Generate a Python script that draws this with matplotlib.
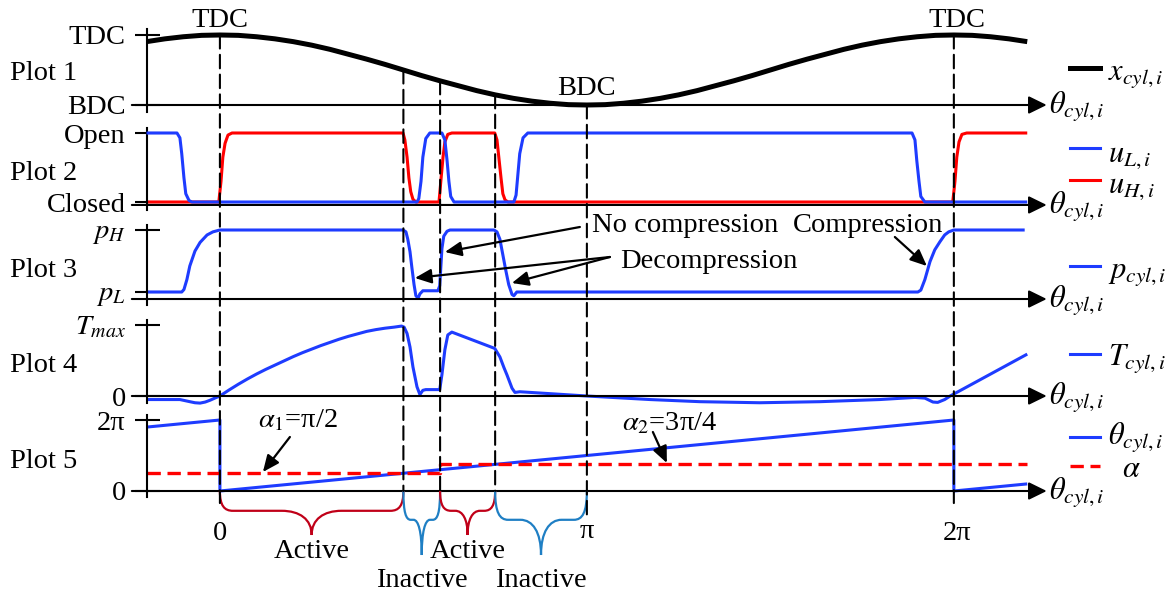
import numpy as np
import matplotlib
matplotlib.use("Agg")
import matplotlib.pyplot as plt
from matplotlib.patches import ConnectionPatch, PathPatch
from matplotlib.path import Path

plt.rcParams["font.family"] = ["Liberation Serif", "DejaVu Serif"]
plt.rcParams["mathtext.fontset"] = "stix"
plt.rcParams["font.size"] = 20.5

# ---- data (x in units of pi) ----
theta_x = [-0.2, -0.15, -0.1, -0.05, 0.0, 0.05, 0.1, 0.15, 0.2, 0.25, 0.3, 0.35, 0.4,
           0.45, 0.5, 0.55, 0.6, 0.65, 0.7, 0.75, 0.8, 0.85, 0.9, 0.95, 1.0, 1.05, 1.1,
           1.15, 1.2, 1.25, 1.3, 1.35, 1.4, 1.45, 1.5, 1.55, 1.6, 1.65, 1.7, 1.75, 1.8,
           1.85, 1.9, 1.95, 2.0, 2.05, 2.1, 2.15, 2.2]
x_cyl = [0.81, 0.89, 0.95, 0.99, 1.0, 0.99, 0.95, 0.89, 0.81, 0.71, 0.59, 0.45, 0.31,
         0.16, 0.0, -0.16, -0.31, -0.45, -0.59, -0.71, -0.81, -0.89, -0.95, -0.99, -1.0,
         -0.99, -0.95, -0.89, -0.81, -0.71, -0.59, -0.45, -0.31, -0.16, 0.0, 0.16, 0.31,
         0.45, 0.59, 0.71, 0.81, 0.89, 0.95, 0.99, 1.0, 0.99, 0.95, 0.89, 0.81]

uL_t = [-0.2, -0.117, -0.109, -0.104, -0.098, -0.093, -0.084, -0.076,
        0.537, 0.542, 0.548, 0.553, 0.561, 0.572, 0.605, 0.613, 0.619, 0.624, 0.629, 0.638,
        0.801, 0.807, 0.812, 0.817, 0.826, 0.839, 1.886, 1.894, 1.899, 1.905, 1.910, 1.921, 2.2]
uL_v = [1, 1, 0.93, 0.7, 0.35, 0.12, 0.02, 0,
        0, 0.05, 0.3, 0.65, 0.92, 1, 1, 0.9, 0.6, 0.3, 0.08, 0,
        0, 0.1, 0.4, 0.7, 0.93, 1, 1, 0.9, 0.6, 0.3, 0.08, 0, 0]

uH_t = [-0.2, -0.003, 0.003, 0.008, 0.014, 0.022, 0.033, 0.499, 0.504, 0.510, 0.515, 0.520,
        0.526, 0.534, 0.597, 0.602, 0.608, 0.613, 0.621, 0.632, 0.749, 0.755, 0.760, 0.766,
        0.771, 0.777, 0.785, 1.997, 2.003, 2.008, 2.014, 2.022, 2.035, 2.2]
uH_v = [0, 0, 0.3, 0.65, 0.85, 0.97, 1, 1, 0.9, 0.65, 0.35, 0.15,
        0.04, 0, 0, 0.3, 0.65, 0.87, 0.98, 1, 1, 0.9, 0.65, 0.35,
        0.12, 0.03, 0, 0, 0.3, 0.65, 0.87, 0.98, 1, 1]

p_t = [-0.2, -0.104, -0.098, -0.090, -0.082, -0.068, -0.054, -0.035, -0.019, 0.0,
       0.499, 0.507, 0.512, 0.518, 0.523, 0.529, 0.534, 0.540, 0.545, 0.553,
       0.594, 0.599, 0.602, 0.605, 0.610, 0.619, 0.627,
       0.747, 0.755, 0.763, 0.771, 0.779, 0.787, 0.796, 0.801, 0.809,
       1.902, 1.910, 1.921, 1.935, 1.948, 1.962, 1.975, 1.986, 2.0, 2.193]
p_v = [0, 0, 0.04, 0.2, 0.42, 0.66, 0.8, 0.92, 0.97, 1,
       1, 0.97, 0.85, 0.65, 0.4, 0.12, -0.06, -0.1, -0.03, 0.02,
       0.02, 0.1, 0.4, 0.7, 0.9, 0.98, 1,
       1, 0.97, 0.85, 0.6, 0.35, 0.12, -0.04, -0.06, 0,
       0, 0.03, 0.2, 0.49, 0.68, 0.81, 0.92, 0.97, 1, 1]

T_t = [-0.2, -0.109, -0.082, -0.068, -0.054, -0.04, -0.027, -0.014, 0.0,
       0.025, 0.05, 0.075, 0.1, 0.125, 0.15, 0.175, 0.2, 0.225, 0.25, 0.275, 0.3,
       0.325, 0.35, 0.375, 0.4, 0.425, 0.45, 0.475, 0.495,
       0.502, 0.51, 0.518, 0.526, 0.537, 0.545, 0.553, 0.561,
       0.599, 0.605, 0.613, 0.621, 0.632, 0.749, 0.763, 0.774, 0.782, 0.796,
       0.804, 0.817, 1.0, 1.172, 1.308, 1.471, 1.635, 1.798, 1.894, 1.921, 1.943,
       1.956, 1.975, 1.99, 2.2]
T_v = [-0.05, -0.05, -0.08, -0.095, -0.1, -0.085, -0.06, -0.03, 0.0,
       0.085, 0.165, 0.24, 0.31, 0.375, 0.435, 0.495, 0.555, 0.61, 0.66, 0.71, 0.755,
       0.8, 0.84, 0.875, 0.91, 0.935, 0.955, 0.97, 0.985,
       0.97, 0.88, 0.69, 0.41, 0.13, 0.02, 0.08, 0.09,
       0.09, 0.3, 0.65, 0.86, 0.9, 0.67, 0.55, 0.4, 0.3, 0.11,
       0.05, 0.06, 0.0, -0.05, -0.08, -0.095, -0.08, -0.05, -0.02, -0.03, -0.085,
       -0.09, -0.05, 0.0, 0.59]

th_t = [-0.2, 0.0, 0.0, 2.0, 2.0, 2.2]
th_v = [1.8, 2.0, 0.0, 2.0, 0.0, 0.2]
alpha_t = [-0.2, 0.6, 0.6, 2.2]
alpha_v = [0.5, 0.5, 0.75, 0.75]

marks = [0.0, 0.5, 0.6, 0.75, 1.0, 2.0]
marks_top = [1.0, 0.0, -0.31, -0.71, -1.0, 1.0]
marks_bot = [-0.34, 0.0, 0.0, 0.0, -0.68, -0.34]

phases = [(0.0, 0.5, "Active"), (0.5, 0.6, "Inactive"),
          (0.6, 0.75, "Active"), (0.75, 1.0, "Inactive")]

BLUE = "#1e3cff"
RED = "#ff0000"
BR_RED = "#c00018"
BR_BLUE = "#1f7fc4"

W, H = 1166, 593
PXPI = 367.0          # pixels per pi
XL, XR = -0.245, 2.262
X0, XEND = -0.2, 2.253


def px(p):
    return p / PXPI


fig = plt.figure(figsize=(W / 100, H / 100), dpi=100)


def make_axes(top, bot, v1, p1, v0, p0):
    ax = fig.add_axes([130 / W, 1 - bot / H, (1050 - 130) / W, (bot - top) / H])
    s = (p0 - p1) / (v1 - v0)
    ax.set_ylim(v0 - (bot - p0) / s, v1 + (p1 - top) / s)
    ax.set_xlim(XL, XR)
    ax.patch.set_visible(False)
    for k in ["top", "right", "bottom"]:
        ax.spines[k].set_visible(False)
    ax.spines["left"].set_position(("data", X0))
    ax.spines["left"].set_linewidth(1.5)
    ax.set_xticks([])
    ax.tick_params(axis="y", direction="inout", length=18, width=1.5, pad=6,
                   labelsize=20.5)
    return ax


def x_arrow(ax, y):
    ax.annotate("", xy=(XEND, y), xytext=(-0.24, y),
                arrowprops=dict(arrowstyle="-|>,head_length=0.55,head_width=0.27",
                                mutation_scale=20, lw=1.5, color="k",
                                shrinkA=0, shrinkB=0),
                annotation_clip=False)
    ax.annotate(r"$\theta_{cyl,i}$", xy=(XEND, y), xytext=(2, -6),
                textcoords="offset points", va="baseline", ha="left",
                fontsize=22, annotation_clip=False)


line_kw = dict(clip_on=False, solid_joinstyle="round", solid_capstyle="butt")

# Plot 1
ax1 = make_axes(20, 115, 1, 35, -1, 105)
ax1.plot(theta_x, x_cyl, color="k", lw=3.6, **line_kw)
ax1.set_yticks([1, -1], ["TDC", "BDC"])
ax1.spines["left"].set_bounds(-1.2, 1.17)
x_arrow(ax1, -1)

# Plot 2
ax2 = make_axes(120, 215, 1, 133, 0, 202)
ax2.plot(uL_t, uL_v, color=BLUE, lw=2.2, zorder=3, **line_kw)
ax2.plot(uH_t, uH_v, color=RED, lw=2.2, zorder=2, **line_kw)
ax2.set_yticks([1, 0], ["Open", "Closed"])
ax2.spines["left"].set_bounds(-0.116, 1.07)
x_arrow(ax2, -0.043)

# Plot 3
ax3 = make_axes(217, 310, 1, 230, 0, 292)
ax3.plot(p_t, p_v, color=BLUE, lw=2.2, **line_kw)
ax3.set_yticks([1, 0], [r"$p_H$", r"$p_L$"])
ax3.spines["left"].set_bounds(-0.21, 1.08)
x_arrow(ax3, -0.113)

# Plot 4
ax4 = make_axes(312, 405, 1, 325, 0, 396)
ax4.plot(T_t, T_v, color=BLUE, lw=2.2, **line_kw)
ax4.set_yticks([1, 0], [r"$T_{max}$", "0"])
ax4.spines["left"].set_bounds(-0.1, 1.07)
x_arrow(ax4, 0)

# Plot 5
ax5 = make_axes(407, 500, 2, 420, 0, 491)
ax5.plot(th_t, th_v, color=BLUE, lw=2.2, **line_kw)
ax5.plot(alpha_t, alpha_v, color=RED, lw=2.4, ls=(0, (4, 2)), clip_on=False)
ax5.set_yticks([2, 0], ["2π", "0"])
ax5.spines["left"].set_bounds(-0.17, 2.14)
x_arrow(ax5, 0)

# dashed reference lines across all plots
for t, top, bot in zip(marks, marks_top, marks_bot):
    con = ConnectionPatch(xyA=(t, top), coordsA=ax1.transData,
                          xyB=(t, bot), coordsB=ax5.transData,
                          color="k", lw=1.5, ls=(0, (6.5, 3)), zorder=5)
    fig.add_artist(con)

# overlay for texts, legend and braces (x in units of pi, y in pixels)
ov = fig.add_axes([130 / W, 0, (1050 - 130) / W, 1])
ov.set_xlim(XL, XR)
ov.set_ylim(H, 0)
ov.axis("off")
ov.patch.set_visible(False)

for i, yb in enumerate([80, 180, 277, 372, 468]):
    ov.text(px(10 - 220), yb, "Plot %d" % (i + 1), ha="left", va="baseline")

ov.text(0.0, 27, "TDC", ha="center", va="baseline")
ov.text(2.008, 27, "TDC", ha="center", va="baseline")
ov.text(1.0, 95, "BDC", ha="center", va="baseline")

# legend
legend_items = [
    (68, 80, "k", "-", 3.6, r"$x_{cyl,i}$"),
    (148, 162, BLUE, "-", 2.2, r"$u_{L,i}$"),
    (180, 193, RED, "-", 2.2, r"$u_{H,i}$"),
    (266, 278, BLUE, "-", 2.2, r"$p_{cyl,i}$"),
    (354, 365, BLUE, "-", 2.2, r"$T_{cyl,i}$"),
    (437, 445, BLUE, "-", 2.2, r"$\theta_{cyl,i}$"),
    (466, 477, RED, (0, (4, 2)), 2.4, r"$\alpha$"),
]
for yl, yt, c, ls, lw, lab in legend_items:
    ov.plot([px(1070 - 220), px(1100 - 220)], [yl, yl], color=c, ls=ls, lw=lw,
            clip_on=False)
    xt = px(1108 - 220) if lab != r"$\alpha$" else px(1122 - 220)
    ov.text(xt, yt, lab, ha="left", va="baseline", fontsize=22)

# annotations
arrow_kw = dict(arrowstyle="-|>,head_length=0.5,head_width=0.22", mutation_scale=20,
                lw=1.6, color="k", shrinkA=0, shrinkB=0)
ov.text(px(592 - 220), 232, "No compression", ha="left", va="baseline")
ov.text(px(943 - 220), 232, "Compression", ha="right", va="baseline")
ov.text(px(620 - 220), 268, "Decompression", ha="left", va="baseline")
ov.annotate("", xy=(px(445 - 220), 252), xytext=(px(580 - 220), 227), arrowprops=arrow_kw)
ov.annotate("", xy=(px(415 - 220), 278), xytext=(px(610 - 220), 257), arrowprops=arrow_kw)
ov.annotate("", xy=(px(512 - 220), 283), xytext=(px(610 - 220), 257), arrowprops=arrow_kw)
ov.annotate("", xy=(px(927 - 220), 266), xytext=(px(895 - 220), 237), arrowprops=arrow_kw)

ov.text(px(258 - 220), 427, r"$\alpha_{\mathit{1}}$" + "=π/2", ha="left", va="baseline")
ov.text(px(622 - 220), 430, r"$\alpha_{\mathit{2}}$" + "=3π/4", ha="left", va="baseline")
ov.annotate("", xy=(px(263 - 220), 472), xytext=(px(290 - 220), 437), arrowprops=arrow_kw)
ov.annotate("", xy=(px(667 - 220), 463), xytext=(px(653 - 220), 432), arrowprops=arrow_kw)

# x tick labels
ov.text(0.0, 540, "0", ha="center", va="baseline")
ov.text(1.0, 538, "π", ha="center", va="baseline")
ov.text(2.01, 540, "2π", ha="center", va="baseline")


# braces under plot 5
def brace(x1, x2, y0, depth, color):
    half = (x2 - x1) / 2
    xm = x1 + half
    h = 0.45 * depth
    a1 = min(px(13), 0.4 * half)
    a2 = min(px(30), 0.45 * half)
    yt = y0 + h + 0.35 * (depth - h)
    verts = [(x1, y0), (x1, y0 + 0.75 * h), (x1 + 0.35 * a1, y0 + h), (x1 + a1, y0 + h),
             (xm - a2, y0 + h),
             (xm - 0.4 * a2, y0 + h), (xm, yt), (xm, y0 + depth),
             (xm, yt), (xm + 0.4 * a2, y0 + h), (xm + a2, y0 + h),
             (x2 - a1, y0 + h),
             (x2 - 0.35 * a1, y0 + h), (x2, y0 + 0.75 * h), (x2, y0)]
    codes = [Path.MOVETO, Path.CURVE4, Path.CURVE4, Path.CURVE4, Path.LINETO,
             Path.CURVE4, Path.CURVE4, Path.CURVE4, Path.CURVE4, Path.CURVE4, Path.CURVE4,
             Path.LINETO, Path.CURVE4, Path.CURVE4, Path.CURVE4]
    ov.add_patch(PathPatch(Path(verts, codes), fill=False, ec=color, lw=1.6,
                           clip_on=False))


label_y = {"Active": 558, "Inactive": 587}
for a, b, name in phases:
    active = name == "Active"
    depth = 44 if active else 64
    brace(a, b, 491, depth, BR_RED if active else BR_BLUE)
    ov.text((a + b) / 2, label_y[name], name, ha="center", va="baseline")

fig.savefig("out.png", dpi=100)
